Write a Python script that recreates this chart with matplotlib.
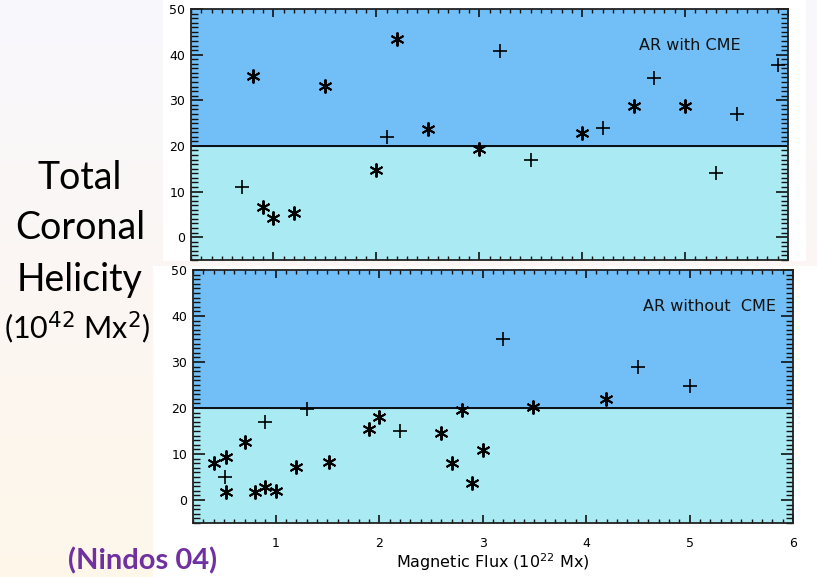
import numpy as np
import matplotlib.pyplot as plt
from matplotlib.patches import Rectangle
from matplotlib.ticker import MultipleLocator

# ---- data ----
cme_plus_x = [0.70, 2.10, 3.20, 3.50, 4.20, 4.70, 5.30, 5.50, 5.90]
cme_plus_y = [11.1, 21.9, 40.9, 17.0, 23.9, 34.8, 14.1, 27.0, 37.8]
cme_star_x = [0.80, 0.90, 1.00, 1.20, 1.50, 2.00, 2.20, 2.50, 3.00, 4.00, 4.50, 5.00]
cme_star_y = [35.3, 6.7, 4.2, 5.2, 33.1, 14.8, 43.4, 23.8, 19.4, 22.9, 28.7, 28.7]

nocme_plus_x = [0.51, 0.90, 1.30, 2.20, 3.20, 4.50, 5.00]
nocme_plus_y = [4.9, 16.9, 19.8, 14.9, 34.9, 29.0, 24.8]
nocme_star_x = [0.40, 0.52, 0.52, 0.70, 0.80, 0.90, 1.00, 1.20, 1.51, 1.90,
                2.00, 2.60, 2.70, 2.80, 2.90, 3.00, 3.49, 4.19]
nocme_star_y = [8.0, 9.3, 1.7, 12.7, 1.7, 2.9, 2.0, 7.2, 8.3, 15.4,
                18.0, 14.6, 8.1, 19.6, 3.8, 10.9, 20.3, 21.9]

THRESHOLD = 20
UPPER = "#72bff7"
LOWER = "#aaeaf2"
ASTER = (6, 2, 0)
TICKC = "#111111"

W, H = 817, 577
fig = plt.figure(figsize=(W / 100, H / 100), dpi=100)

# slide background (soft gradient)
bg = fig.add_axes([0, 0, 1, 1], zorder=-10)
grad = np.linspace(0, 1, 256)[:, None]
top_c = np.array([0.975, 0.970, 0.990])
bot_c = np.array([0.997, 0.965, 0.915])
img = top_c[None, None, :] * (1 - grad[..., None]) + bot_c[None, None, :] * grad[..., None]
bg.imshow(np.repeat(img, 4, axis=1), aspect="auto", extent=[0, 1, 0, 1])
bg.set_xlim(0, 1)
bg.set_ylim(0, 1)
bg.axis("off")
# white cut-outs behind the two pasted plots
bg.add_patch(Rectangle((163 / W, 1 - 261 / H), (806 - 163) / W, 261 / H,
                       facecolor="white", edgecolor="none"))
bg.add_patch(Rectangle((153 / W, 0), (W - 153) / W, 1 - 266 / H,
                       facecolor="white", edgecolor="none"))


def panel(rect, px, py, sx, sy, label, show_x):
    ax = fig.add_axes(rect)
    ax.set_xlim(0.2, 6)
    ax.set_ylim(-5, 50)
    ax.axhspan(-5, THRESHOLD, color=LOWER, zorder=-1)
    ax.axhspan(THRESHOLD, 50, color=UPPER, zorder=-1)
    ax.axhline(THRESHOLD, color="black", lw=1.3, zorder=1)
    ax.plot(px, py, ls="none", marker="+", ms=10, mew=1.2, color="black", zorder=3)
    ax.plot(sx, sy, ls="none", marker=ASTER, ms=10, mew=1.4, color="black", zorder=3)
    ax.text(4.55, 42, label, fontsize=11.5, ha="left", va="center", color="#111111")

    # IDL-style inward ticks on all four sides
    ax.xaxis.set_major_locator(MultipleLocator(1))
    ax.xaxis.set_minor_locator(MultipleLocator(0.1))
    ax.yaxis.set_major_locator(MultipleLocator(10))
    ax.yaxis.set_minor_locator(MultipleLocator(1))
    ax.tick_params(which="both", direction="in", top=True, right=True, color=TICKC)
    ax.tick_params(axis="y", which="major", length=8.5, width=1.2, labelsize=9, pad=4)
    ax.tick_params(axis="y", which="minor", length=5, width=1.0)
    ax.tick_params(axis="x", which="major", length=5.5, width=1.2, labelsize=9, pad=10)
    ax.tick_params(axis="x", which="minor", length=3, width=1.0)
    if not show_x:
        ax.tick_params(axis="x", labelbottom=False)
    for s in ax.spines.values():
        s.set_linewidth(1.3)
        s.set_color("#222222")
    return ax


ax1 = panel([191 / W, 1 - 260 / H, (788 - 191) / W, 251 / H],
            cme_plus_x, cme_plus_y, cme_star_x, cme_star_y, "AR with CME", False)
ax2 = panel([193 / W, 1 - 523 / H, (793 - 193) / W, 253 / H],
            nocme_plus_x, nocme_plus_y, nocme_star_x, nocme_star_y,
            "AR without  CME", True)
ax2.set_xlabel("Magnetic Flux (10$^{22}$ Mx)", fontsize=11.5, labelpad=1)

# slide text
for txt, yp in [("Total", 178), ("Coronal", 228), ("Helicity", 280)]:
    fig.text(80 / W, 1 - yp / H, txt, fontsize=27, family="Lato",
             ha="center", va="center", color="black")
fig.text(77 / W, 1 - 328 / H, "(10$^{42}$ Mx$^2$)", fontsize=22, family="Lato",
         ha="center", va="center", color="black")
fig.text(143 / W, 3 / H, "(Nindos 04)", fontsize=21, family="Lato",
         fontweight="bold", ha="center", va="bottom", color="#7030a0")

fig.savefig("out.png", dpi=100)
